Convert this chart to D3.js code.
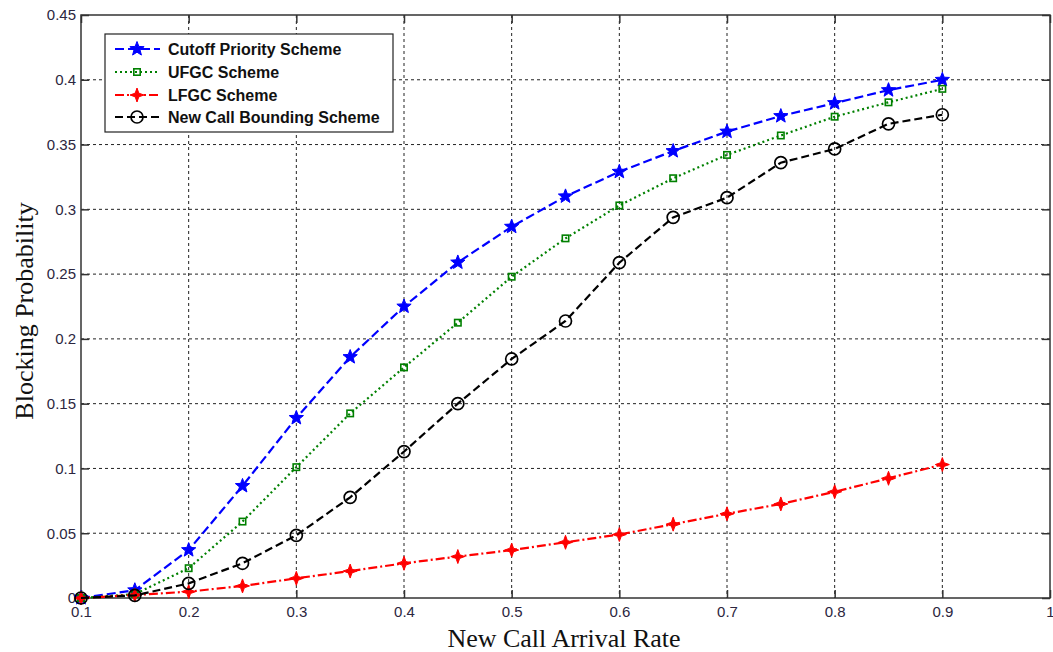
<!DOCTYPE html>
<html>
<head>
<meta charset="utf-8">
<script src="https://cdn.jsdelivr.net/npm/d3@7"></script>
<style>
  html, body { margin: 0; padding: 0; background: #fff; }
  svg { display: block; }
</style>
</head>
<body>
<svg id="chart" width="1053" height="652"></svg>
<script>
// ---- data ----
const xValues = [0.1, 0.15, 0.2, 0.25, 0.3, 0.35, 0.4, 0.45, 0.5, 0.55, 0.6, 0.65, 0.7, 0.75, 0.8, 0.85, 0.9];
const cutoffPriority = [0, 0.006, 0.037, 0.0865, 0.139, 0.186, 0.225, 0.259, 0.2866, 0.310, 0.329, 0.345, 0.360, 0.372, 0.382, 0.392, 0.400];
const ufgc = [0, 0.003, 0.023, 0.059, 0.101, 0.1425, 0.178, 0.2125, 0.248, 0.2776, 0.303, 0.324, 0.342, 0.357, 0.3715, 0.3826, 0.393];
const lfgc = [0, 0.0023, 0.0049, 0.0093, 0.0152, 0.0208, 0.0268, 0.032, 0.037, 0.043, 0.049, 0.057, 0.065, 0.0726, 0.082, 0.0924, 0.103];
const newCallBounding = [0, 0.002, 0.0113, 0.0268, 0.0484, 0.0777, 0.113, 0.150, 0.1845, 0.2138, 0.2588, 0.2938, 0.309, 0.336, 0.3466, 0.366, 0.373];
const seriesNames = ["Cutoff Priority Scheme", "UFGC Scheme", "LFGC Scheme", "New Call Bounding Scheme"];
const xTicks = [0.1, 0.2, 0.3, 0.4, 0.5, 0.6, 0.7, 0.8, 0.9, 1];
const yTicks = [0, 0.05, 0.1, 0.15, 0.2, 0.25, 0.3, 0.35, 0.4, 0.45];
const xLabel = "New Call Arrival Rate";
const yLabel = "Blocking Probability";

// ---- layout ----
const svg = d3.select("#chart");
const L = 81, R = 1050, T = 15, B = 598;
const x = d3.scaleLinear().domain([0.1, 1]).range([L, R]);
const y = d3.scaleLinear().domain([0, 0.45]).range([B, T]);

// grid
const grid = svg.append("g");
grid.selectAll("line.vg").data(xTicks.slice(1, -1)).join("line")
  .attr("x1", d => x(d)).attr("x2", d => x(d)).attr("y1", T).attr("y2", B)
  .attr("stroke", "#222").attr("stroke-width", 1).attr("stroke-dasharray", "3,3");
grid.selectAll("line.hg").data(yTicks.slice(1, -1)).join("line")
  .attr("y1", d => y(d)).attr("y2", d => y(d)).attr("x1", L).attr("x2", R)
  .attr("stroke", "#222").attr("stroke-width", 1).attr("stroke-dasharray", "3,3");

// axes with inward ticks (all 4 sides)
const tickFont = "Liberation Sans, Arial, sans-serif";
const tickColor = "#2c2640";
const axB = svg.append("g").attr("transform", `translate(0,${B})`)
  .call(d3.axisBottom(x).tickValues(xTicks).tickSize(-8).tickPadding(8).tickFormat(d3.format("~g")));
const axL = svg.append("g").attr("transform", `translate(${L},0)`)
  .call(d3.axisLeft(y).tickValues(yTicks).tickSize(-8).tickPadding(5).tickFormat(d3.format("~g")));
const axT = svg.append("g").attr("transform", `translate(0,${T})`)
  .call(d3.axisTop(x).tickValues(xTicks).tickSize(-8).tickFormat(""));
const axR = svg.append("g").attr("transform", `translate(${R},0)`)
  .call(d3.axisRight(y).tickValues(yTicks).tickSize(-8).tickFormat(""));
[axB, axL, axT, axR].forEach(a => {
  a.select(".domain").remove();
  a.selectAll(".tick line").attr("stroke", "#333").attr("stroke-width", 1.5);
  a.selectAll(".tick text").attr("font-family", tickFont).attr("font-size", 15).attr("fill", tickColor);
});

// frame
svg.append("rect").attr("x", L).attr("y", T).attr("width", R - L).attr("height", B - T)
  .attr("fill", "none").attr("stroke", "#333").attr("stroke-width", 1.5);

// markers
function starPath(n, ro, ri) {
  let p = [];
  for (let i = 0; i < 2 * n; i++) {
    const r = i % 2 === 0 ? ro : ri;
    const a = -Math.PI / 2 + i * Math.PI / n;
    p.push([r * Math.cos(a), r * Math.sin(a)]);
  }
  return "M" + p.map(q => q[0].toFixed(2) + "," + q[1].toFixed(2)).join("L") + "Z";
}
const series = [
  { name: seriesNames[0], values: cutoffPriority, color: "#0000ff", dash: "9,4", marker: "star5" },
  { name: seriesNames[1], values: ufgc, color: "#008000", dash: "2,3", marker: "square" },
  { name: seriesNames[2], values: lfgc, color: "#ff0000", dash: "9,3,2,3", marker: "star4" },
  { name: seriesNames[3], values: newCallBounding, color: "#000000", dash: "8,4", marker: "circle" }
];
function drawMarker(g, type, color) {
  if (type === "star5") {
    g.append("path").attr("d", starPath(5, 7.5, 3.2)).attr("fill", color).attr("stroke", color).attr("stroke-width", 1);
  } else if (type === "square") {
    g.append("rect").attr("x", -3.2).attr("y", -3.2).attr("width", 6.4).attr("height", 6.4)
      .attr("fill", "none").attr("stroke", color).attr("stroke-width", 1.6);
  } else if (type === "star4") {
    g.append("path").attr("d", starPath(4, 7, 2.6)).attr("fill", color).attr("stroke", color).attr("stroke-width", 1);
  } else if (type === "circle") {
    g.append("circle").attr("r", 6).attr("fill", "none").attr("stroke", color).attr("stroke-width", 1.7);
  }
}

const line = d3.line().x(d => x(d[0])).y(d => y(d[1]));
series.forEach(s => {
  const pts = xValues.map((xv, i) => [xv, s.values[i]]);
  svg.append("path").datum(pts).attr("d", line)
    .attr("fill", "none").attr("stroke", s.color).attr("stroke-width", 2.2)
    .attr("stroke-dasharray", s.dash);
  const mg = svg.append("g");
  pts.forEach(p => {
    const g = mg.append("g").attr("transform", `translate(${x(p[0])},${y(p[1])})`);
    drawMarker(g, s.marker, s.color);
  });
});

// legend
const lg = svg.append("g");
lg.append("rect").attr("x", 105).attr("y", 34).attr("width", 288).attr("height", 98)
  .attr("fill", "#fff").attr("stroke", "#222").attr("stroke-width", 1.2);
const rowsY = [49, 72, 95, 117];
series.forEach((s, i) => {
  const yy = rowsY[i];
  lg.append("line").attr("x1", 115).attr("x2", 160).attr("y1", yy).attr("y2", yy)
    .attr("stroke", s.color).attr("stroke-width", 2.2).attr("stroke-dasharray", s.dash);
  const g = lg.append("g").attr("transform", `translate(137,${yy})`);
  drawMarker(g, s.marker, s.color);
  lg.append("text").attr("x", 168).attr("y", yy).attr("dy", "0.36em")
    .attr("font-family", tickFont).attr("font-size", 16).attr("font-weight", "bold")
    .attr("fill", "#111").text(s.name);
});

// axis titles
svg.append("text").attr("x", 564).attr("y", 647).attr("text-anchor", "middle")
  .attr("font-family", "Liberation Serif, Times New Roman, serif").attr("font-size", 26)
  .attr("fill", "#111").text(xLabel);
svg.append("text").attr("transform", "translate(33,311) rotate(-90)").attr("text-anchor", "middle")
  .attr("font-family", "Liberation Serif, Times New Roman, serif").attr("font-size", 26)
  .attr("fill", "#111").text(yLabel);
</script>
</body>
</html>
